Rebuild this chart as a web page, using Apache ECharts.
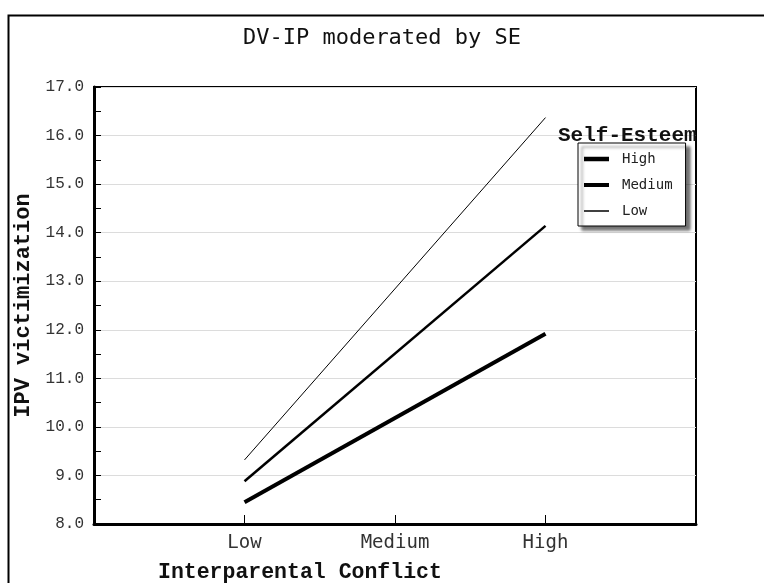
<!DOCTYPE html>
<html>
<head>
<meta charset="utf-8">
<script src="https://cdn.jsdelivr.net/npm/echarts@6/dist/echarts.min.js"></script>
<style>html,body{margin:0;padding:0;background:#fff;}#c{width:764px;height:583px;}</style>
</head>
<body>
<div id="c"></div>
<script>
var categories = ['', 'Low', 'Medium', 'High', ''];
var seHigh = [null, 8.45, null, 11.92, null];
var seMedium = [null, 8.88, null, 14.14, null];
var seLow = [null, 9.32, null, 16.37, null];
var yTickMin = 8, yTickMax = 17, yTickStep = 1;

var chart = echarts.init(document.getElementById('c'));
var mono = '"DejaVu Sans Mono", monospace';
var cour = '"Liberation Mono", monospace';
function mk(name, data, w) {
  return {
    name: name, type: 'line', data: data, connectNulls: true,
    symbol: 'none', lineStyle: {color: '#000', width: w}, itemStyle: {color: '#000'},
    animation: false
  };
}
function bar(t) {
  var a = (14 - t) / 2, b = a + t;
  return 'path://M0 0L0 0M25 14L25 14M0 ' + a + 'H25V' + b + 'H0Z';
}
chart.setOption({
  animation: false,
  backgroundColor: '#fff',
  title: [
    {text: 'DV-IP moderated by SE', left: 'center', top: 22,
     textStyle: {fontFamily: mono, fontSize: 22, fontWeight: 'normal', color: '#111'}},
    {text: 'Self-Esteem', left: 553, top: 120,
     textStyle: {fontFamily: cour, fontSize: 21, fontWeight: 'bold', color: '#111'}}
  ],
  legend: {
    orient: 'vertical', left: 578, top: 143,
    data: [
      {name: 'High', icon: bar(4.5)},
      {name: 'Medium', icon: bar(4)},
      {name: 'Low', icon: bar(1.5)}
    ],
    itemWidth: 25, itemHeight: 14, itemGap: 12,
    padding: [9, 13, 8, 6],
    itemStyle: {color: '#000', borderWidth: 0},
    backgroundColor: '#fff', borderColor: '#000', borderWidth: 1,
    shadowColor: 'rgba(0,0,0,0.55)', shadowBlur: 3, shadowOffsetX: 4, shadowOffsetY: 4,
    textStyle: {fontFamily: mono, fontSize: 14, color: '#222', padding: [0, 0, 0, 8]}
  },
  grid: {left: 94, right: 68, top: 87, bottom: 59, show: true, borderColor: '#000', borderWidth: 2},
  xAxis: {
    type: 'category', data: categories, boundaryGap: false,
    axisLine: {lineStyle: {color: '#000', width: 3}},
    axisTick: {inside: true, length: 9, lineStyle: {color: '#000', width: 1},
      interval: function (i, v) { return v !== ''; }},
    axisLabel: {fontFamily: mono, fontSize: 19, color: '#333', margin: 10, interval: 0},
    splitLine: {show: false}
  },
  yAxis: {
    type: 'value', min: yTickMin, max: yTickMax, interval: yTickStep,
    axisLine: {show: true, lineStyle: {color: '#000', width: 3}},
    axisTick: {show: true, inside: true, length: 7, lineStyle: {color: '#000'}},
    minorTick: {show: true, splitNumber: 2, length: 7, lineStyle: {color: '#000'}},
    axisLabel: {fontFamily: cour, fontSize: 16, color: '#333', margin: 10,
      formatter: function (v) { return v.toFixed(1); }},
    splitLine: {show: true, lineStyle: {color: '#dcdcdc', width: 1}},
    name: 'IPV victimization', nameLocation: 'middle', nameGap: 69, nameRotate: 90,
    nameTextStyle: {fontFamily: cour, fontSize: 22, fontWeight: 'bold', color: '#111', verticalAlign: 'middle'}
  },
  graphic: [
    {type: 'rect', left: 6, top: 13, shape: {width: 800, height: 600},
     style: {fill: 'none', stroke: '#000', lineWidth: 2}, silent: true},
    {type: 'text', left: 158, top: 562,
     style: {text: 'Interparental Conflict', font: 'bold 21.5px "Liberation Mono", monospace', fill: '#111'}}
  ],
  series: [mk('High', seHigh, 4), mk('Medium', seMedium, 2.5), mk('Low', seLow, 1)]
});
</script>
</body>
</html>
